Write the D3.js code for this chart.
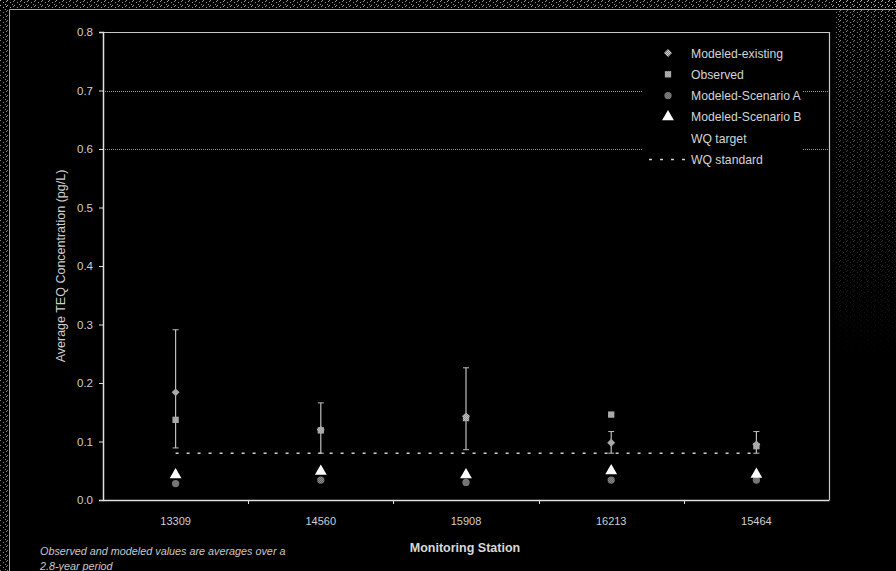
<!DOCTYPE html>
<html>
<head>
<meta charset="utf-8">
<script src="https://cdn.jsdelivr.net/npm/d3@7"></script>
<style>
  html, body { margin: 0; padding: 0; background: #000; }
  svg { display: block; }
  text { font-family: "Liberation Sans", Arial, sans-serif; }
</style>
</head>
<body>
<svg id="chart" width="896" height="571"></svg>
<script>
// Monitoring stations along the x axis
const stations = ["13309", "14560", "15908", "16213", "15464"];

// Average TEQ concentrations (pg/L)
const modeledExisting = [0.184, 0.120, 0.143, 0.098, 0.095];
const observed        = [0.137, 0.119, 0.140, 0.146, 0.092];
const scenarioA       = [0.028, 0.034, 0.030, 0.034, 0.034];
const scenarioB       = [0.043, 0.049, 0.043, 0.050, 0.044];

// Range of the modeled-existing values (error bars)
const rangeLow  = [0.089, 0.080, 0.086, 0.080, 0.080];
const rangeHigh = [0.291, 0.166, 0.226, 0.117, 0.117];

// Water-quality standard
const wqStandard = 0.08;

// Axis ticks and reference gridlines
const yTicks = [0.0, 0.1, 0.2, 0.3, 0.4, 0.5, 0.6, 0.7, 0.8];
const gridValues = [0.6, 0.7];

const legendItems = ["Modeled-existing", "Observed", "Modeled-Scenario A", "Modeled-Scenario B", "WQ target", "WQ standard"];

const svg = d3.select("#chart");
const W = 896, H = 571;
const plot = { left: 103, right: 829, top: 32, bottom: 500 };

const x = d3.scaleBand().domain(stations).range([plot.left, plot.right]);
const y = d3.scaleLinear().domain([0, 0.8]).range([plot.bottom, plot.top]);
const cx = s => x(s) + x.bandwidth() / 2;

// ---- textures ----
const defs = svg.append("defs");
const grain = defs.append("pattern").attr("id", "grain")
  .attr("width", 7).attr("height", 5).attr("patternUnits", "userSpaceOnUse");
grain.append("rect").attr("width", 7).attr("height", 5).attr("fill", "#000");
[[0,0],[3,2],[5,4],[6,1]].forEach(([a,b]) =>
  grain.append("rect").attr("x", a).attr("y", b).attr("width", 1).attr("height", 1).attr("fill", "#bdbdbd"));

const fade = defs.append("linearGradient").attr("id", "fadeGrad")
  .attr("x1", 0).attr("y1", 0).attr("x2", 0).attr("y2", 1);
fade.append("stop").attr("offset", "0%").attr("stop-color", "#fff").attr("stop-opacity", 0.75);
fade.append("stop").attr("offset", "45%").attr("stop-color", "#fff").attr("stop-opacity", 0.35);
fade.append("stop").attr("offset", "100%").attr("stop-color", "#fff").attr("stop-opacity", 0);
defs.append("mask").attr("id", "fadeMask")
  .append("rect").attr("x", 834).attr("y", 0).attr("width", 62).attr("height", 360).attr("fill", "url(#fadeGrad)");

const checker = (id, c1, c2) => {
  const p = defs.append("pattern").attr("id", id)
    .attr("width", 2).attr("height", 2).attr("patternUnits", "userSpaceOnUse");
  p.append("rect").attr("width", 2).attr("height", 2).attr("fill", c1);
  p.append("rect").attr("width", 1).attr("height", 1).attr("fill", c2);
  p.append("rect").attr("x", 1).attr("y", 1).attr("width", 1).attr("height", 1).attr("fill", c2);
};
checker("texDiamond", "#d8d8d8", "#7a7a7a");
checker("texSquare", "#c8c8c8", "#8a8a8a");
checker("texCircle", "#a0a0a0", "#4a4a4a");

// ---- background and frame ----
svg.append("rect").attr("width", W).attr("height", H).attr("fill", "#000");
svg.append("rect").attr("x", 0).attr("y", 0).attr("width", W).attr("height", 8).attr("fill", "url(#grain)").attr("opacity", 0.8);
svg.append("rect").attr("x", 0).attr("y", 0).attr("width", 8).attr("height", H).attr("fill", "url(#grain)").attr("opacity", 0.7);
svg.append("rect").attr("x", 834).attr("y", 0).attr("width", 62).attr("height", 360)
  .attr("fill", "url(#grain)").attr("mask", "url(#fadeMask)");
svg.append("path").attr("d", `M9.5,${H} V9.5 H${W}`)
  .attr("fill", "none").attr("stroke", "#a8a8a8").attr("stroke-width", 1);

// ---- gridlines ----
svg.append("g").selectAll("line").data(gridValues).join("line")
  .attr("x1", plot.left).attr("x2", plot.right)
  .attr("y1", d => Math.round(y(d)) + 0.5).attr("y2", d => Math.round(y(d)) + 0.5)
  .attr("stroke", "#9a9a9a").attr("stroke-width", 1).attr("stroke-dasharray", "1,1");

// plot border (top and right)
svg.append("path")
  .attr("d", `M${plot.left},${plot.top + 0.5} H${plot.right + 0.5} V${plot.bottom}`)
  .attr("fill", "none").attr("stroke", "#c8c8c8").attr("stroke-width", 1.2);

// ---- axes ----
const fontFam = "'Liberation Sans', Arial, sans-serif";
const yAxis = svg.append("g").attr("transform", `translate(${plot.left},0)`)
  .call(d3.axisLeft(y).tickValues(yTicks).tickFormat(d3.format(".1f")).tickSize(4).tickPadding(6));
yAxis.select(".domain").attr("stroke", "#e0e0e0").attr("stroke-width", 1.5);
yAxis.selectAll(".tick line").attr("stroke", "#e0e0e0");
yAxis.selectAll(".tick text").attr("fill", "#cfcfcf").attr("font-size", 11.5).attr("font-family", fontFam);

const xAxis = svg.append("g").attr("transform", `translate(0,${plot.bottom})`)
  .call(d3.axisBottom(x).tickSize(0).tickPadding(17));
xAxis.select(".domain").attr("stroke", "#e0e0e0").attr("stroke-width", 1.5);
xAxis.selectAll(".tick text").attr("fill", "#cfcfcf").attr("font-size", 11).attr("font-family", fontFam);
// category divider ticks
svg.append("g").selectAll("line").data(stations.slice(1)).join("line")
  .attr("x1", d => Math.round(x(d)) + 0.5).attr("x2", d => Math.round(x(d)) + 0.5)
  .attr("y1", plot.bottom).attr("y2", plot.bottom + 4)
  .attr("stroke", "#e0e0e0");

// axis titles
svg.append("text")
  .attr("transform", `translate(65,${(plot.top + plot.bottom) / 2}) rotate(-90)`)
  .attr("text-anchor", "middle").attr("fill", "#d0d0d0").attr("font-size", 12.5)
  .text("Average TEQ Concentration (pg/L)");
svg.append("text").attr("x", (plot.left + plot.right) / 2 - 1).attr("y", 552)
  .attr("text-anchor", "middle").attr("fill", "#d8d8d8").attr("font-size", 12.5).attr("font-weight", "bold")
  .text("Monitoring Station");
const note = svg.append("text").attr("fill", "#c8c8c8").attr("font-size", 10.8).attr("font-style", "italic");
note.append("tspan").attr("x", 40).attr("y", 555).text("Observed and modeled values are averages over a");
note.append("tspan").attr("x", 40).attr("y", 570).text("2.8-year period");

// ---- WQ standard line ----
const stdLine = d3.line().x(d => cx(d)).y(() => y(wqStandard));
svg.append("path").datum(stations).attr("d", stdLine)
  .attr("fill", "none").attr("stroke", "#d0d0d0").attr("stroke-width", 1.5).attr("stroke-dasharray", "3,8");

// ---- error bars ----
const eb = svg.append("g").selectAll("g").data(stations).join("g");
eb.append("line")
  .attr("x1", d => cx(d)).attr("x2", d => cx(d))
  .attr("y1", (d, i) => y(rangeLow[i])).attr("y2", (d, i) => y(rangeHigh[i]))
  .attr("stroke", "#bdbdbd").attr("stroke-width", 1.2);
[rangeLow, rangeHigh].forEach(arr => {
  eb.append("line")
    .attr("x1", d => cx(d) - 3).attr("x2", d => cx(d) + 3)
    .attr("y1", (d, i) => y(arr[i])).attr("y2", (d, i) => y(arr[i]))
    .attr("stroke", "#bdbdbd").attr("stroke-width", 1);
});

// ---- markers ----
const symbolPath = (type, size) => d3.symbol().type(type).size(size)();
const series = [
  { name: legendItems[0], values: modeledExisting, type: d3.symbolDiamond2, size: 40, fill: "url(#texDiamond)" },
  { name: legendItems[1], values: observed,        type: d3.symbolSquare,  size: 40, fill: "url(#texSquare)" },
  { name: legendItems[2], values: scenarioA,       type: d3.symbolCircle,  size: 42, fill: "url(#texCircle)" },
  { name: legendItems[3], values: scenarioB,       type: d3.symbolTriangle, size: 60, fill: "#ffffff" }
];
series.forEach(s => {
  svg.append("g").selectAll("path").data(stations).join("path")
    .attr("d", symbolPath(s.type, s.size))
    .attr("transform", (d, i) => `translate(${cx(d)},${y(s.values[i])})`)
    .attr("fill", s.fill);
});

// ---- legend ----
const lg = svg.append("g");
lg.append("rect").attr("x", 643).attr("y", 40).attr("width", 160).attr("height", 132).attr("fill", "#000");
const rowY = i => 53 + i * 21.3;
legendItems.forEach((name, i) => {
  lg.append("text").attr("x", 691).attr("y", rowY(i) + 4.5)
    .attr("fill", "#d4d4d4").attr("font-size", 12.2).text(name);
});
series.forEach((s, i) => {
  lg.append("path").attr("d", symbolPath(s.type, s.size))
    .attr("transform", `translate(668,${rowY(i)})`).attr("fill", s.fill);
});
lg.append("line").attr("x1", 649).attr("x2", 687).attr("y1", rowY(5)).attr("y2", rowY(5))
  .attr("stroke", "#d0d0d0").attr("stroke-width", 1.5).attr("stroke-dasharray", "3,8");
</script>
</body>
</html>
